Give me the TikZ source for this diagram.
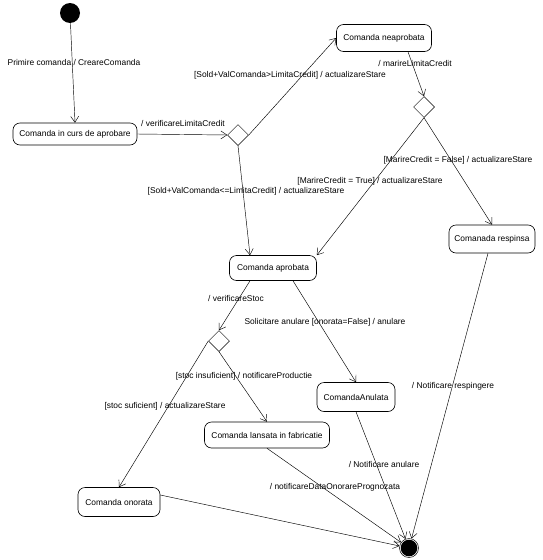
\documentclass[tikz,border=0pt]{standalone}
\usepackage{fontspec}
\setmainfont{Liberation Sans}
\usetikzlibrary{arrows.meta,shapes.geometric}
\begin{document}
\begin{tikzpicture}[x=1pt,y=-1pt,
  every node/.style={font=\fontsize{8.4}{10}\selectfont},
  state/.style={draw,rounded corners=7pt,line width=0.6pt,inner sep=0pt},
  choice/.style={draw,diamond,inner sep=0pt,minimum width=21pt,minimum height=21pt,line width=0.5pt},
  lbl/.style={inner sep=0pt},
  tr/.style={line width=0.45pt,-{Straight Barb[length=6pt,width=8pt,line width=0.45pt]}}
]
\useasboundingbox (0,0) rectangle (543,560);
\node[circle,fill=black,minimum size=20pt,inner sep=0pt] (start) at (70,13) {};
\node[state,minimum width=124pt,minimum height=22pt] (curs) at (75,134) {Comanda in curs de aprobare};
\node[choice] (d1) at (238,135) {};
\node[state,minimum width=95pt,minimum height=27pt] (neapr) at (384,38) {Comanda neaprobata};
\node[choice] (d2) at (424,107) {};
\node[state,minimum width=86pt,minimum height=28pt] (resp) at (492,239) {Comanada respinsa};
\node[state,minimum width=87pt,minimum height=25pt] (apr) at (273,268) {Comanda aprobata};
\node[choice] (d3) at (219,341) {};
\node[state,minimum width=78pt,minimum height=29pt] (anul) at (356,397) {ComandaAnulata};
\node[state,minimum width=125pt,minimum height=26pt] (lans) at (267,435) {Comanda lansata in fabricatie};
\node[state,minimum width=82pt,minimum height=29pt] (onor) at (119,502) {Comanda onorata};
\node[circle,draw,line width=0.5pt,minimum size=19pt,inner sep=0pt] (final) at (409,548) {};
\fill (final.center) circle (8.3pt);

\draw[tr] (start) -- (curs.north);
\draw[tr] (curs.east) -- (d1.west);
\draw[tr] (d1.east) -- (neapr.west);
\draw[tr] ([xshift=24pt]neapr.south) -- (d2.north);
\draw[tr] (d2.south) -- (apr.north east);
\draw[tr] (d2.south) -- (resp.north);
\draw[tr] (d1.south) -- ([xshift=-23pt]apr.north);
\draw[tr] ([xshift=-23pt]apr.south) -- (d3.north);
\draw[tr] ([xshift=20pt]apr.south) -- (anul.north);
\draw[tr] (d3.south) -- (lans.north);
\draw[tr] (d3.west) -- (onor.north);
\draw[tr] ([yshift=7pt]onor.east) -- (final);
\draw[tr] (lans.south) -- (final);
\draw[tr] (anul.south) -- (final);
\draw[tr] ([xshift=-4pt]resp.south) -- (final);

\node[lbl] (l1) at (74,62) {Primire comanda / CreareComanda};
\node[lbl] (l2) at (183,123) {/ verificareLimitaCredit};
\node[lbl] (l3) at (290,75) {[Sold+ValComanda>LimitaCredit] / actualizareStare};
\node[lbl] (l4) at (415,63) {/ marireLimitaCredit};
\node[lbl] (l5) at (458,160) {[MarireCredit = False] / actualizareStare};
\node[lbl] (l6) at (370,181) {[MarireCredit = True] / actualizareStare};
\node[lbl] (l7) at (246,191) {[Sold+ValComanda<=LimitaCredit] / actualizareStare};
\node[lbl] (l8) at (236,298) {/ verificareStoc};
\node[lbl] (l9) at (325,322) {Solicitare anulare [onorata=False] / anulare};
\node[lbl] (l10) at (244,376) {[stoc insuficient] / notificareProductie};
\node[lbl] (l11) at (165,406) {[stoc suficient] / actualizareStare};
\node[lbl] (l12) at (335,487) {/ notificareDataOnorarePrognozata};
\node[lbl] (l13) at (384,464) {/ Notificare anulare};
\node[lbl] (l14) at (453,386) {/ Notificare respingere};
\end{tikzpicture}
\end{document}
